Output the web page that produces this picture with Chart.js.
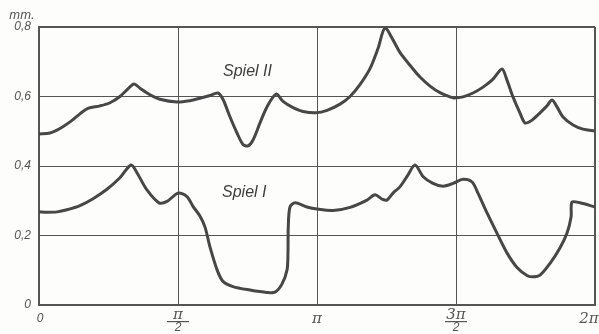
<!DOCTYPE html>
<html>
<head>
<meta charset="utf-8">
<script src="https://cdn.jsdelivr.net/npm/chart.js@4/dist/chart.umd.min.js"></script>
<style>
  body { margin: 0; background: #fdfdfc; }
  canvas { display: block; }
</style>
</head>
<body>
<canvas id="spielChart" width="599" height="334"></canvas>
<script>
// x in degrees (0..360 = 0..2π), y in mm
const spielIIx = [0, 7.1, 13.6, 20.1, 26.5, 31.7, 39.5, 46.0, 52.4, 57.6, 61.5, 65.4, 71.9, 78.3, 89.4, 97.8,
  104.2, 110.7, 115.9, 119.1, 123.7, 128.2, 132.1, 135.3, 138.6, 143.1, 147.6, 153.5, 158.0, 164.5, 170.9,
  179.4, 186.5, 194.9, 201.4, 207.8, 214.3, 219.5, 224.0, 229.2, 233.7, 240.2, 246.7, 253.2, 259.6, 266.1,
  268.7, 274.5, 281.0, 287.5, 294.0, 299.8, 303.0, 306.9, 311.4, 314.7, 319.2, 324.4, 328.9, 332.2, 335.4,
  339.3, 345.8, 352.2, 360];
const spielIIy = [0.492, 0.495, 0.508, 0.527, 0.550, 0.566, 0.573, 0.582, 0.600, 0.622, 0.636, 0.624, 0.605, 0.592, 0.584, 0.588,
  0.595, 0.603, 0.610, 0.592, 0.541, 0.495, 0.462, 0.458, 0.475, 0.524, 0.570, 0.607, 0.586, 0.568, 0.557,
  0.553, 0.560, 0.578, 0.600, 0.634, 0.680, 0.738, 0.797, 0.763, 0.727, 0.690, 0.656, 0.630, 0.611, 0.599,
  0.596, 0.599, 0.610, 0.627, 0.650, 0.679, 0.647, 0.599, 0.553, 0.524, 0.532, 0.553, 0.573, 0.590, 0.570,
  0.541, 0.518, 0.506, 0.501];

const spielIx = [0, 5.2, 11.7, 18.1, 26.5, 35.0, 44.0, 52.4, 59.6, 63.5, 69.9, 77.7, 82.9, 90.0, 95.8, 99.7,
  104.2, 107.5, 110.7, 115.3, 119.1, 125.6, 136.6, 147.6, 152.8, 157.3, 160.6, 161.2, 161.4, 162.5, 165.8,
  173.5, 180.0, 190.4, 201.4, 212.4, 217.6, 222.1, 225.3, 229.2, 233.7, 238.3, 243.5, 248.6, 255.1, 261.6,
  268.1, 274.5, 280.4, 284.2, 290.1, 296.5, 303.0, 309.5, 316.0, 319.9, 324.4, 330.9, 337.3, 341.9, 344.5,
  345.1, 350.3, 360];
const spielIy = [0.268, 0.267, 0.268, 0.274, 0.286, 0.306, 0.333, 0.366, 0.403, 0.380, 0.331, 0.294, 0.298, 0.322, 0.312, 0.284,
  0.256, 0.224, 0.167, 0.101, 0.068, 0.053, 0.043, 0.036, 0.037, 0.060, 0.101, 0.150, 0.224, 0.282, 0.294,
  0.282, 0.276, 0.272, 0.281, 0.302, 0.317, 0.305, 0.302, 0.322, 0.340, 0.370, 0.403, 0.370, 0.350, 0.342,
  0.350, 0.362, 0.354, 0.322, 0.265, 0.207, 0.150, 0.108, 0.085, 0.081, 0.086, 0.120, 0.164, 0.207, 0.253,
  0.296, 0.294, 0.282];

const xTickValues = [0, 90, 180, 270, 360];
const xTickLabels = [['0'], ['π', '2'], ['π'], ['3π', '2'], ['2π']];
const curveNames = ['Spiel II', 'Spiel I'];

const ink = '#474747';
const narrow = "'Liberation Sans Narrow', 'Liberation Sans', sans-serif";
const labelFont = "italic 12px " + narrow;

function toPoints(xs, ys) {
  return xs.map((x, i) => ({ x: x, y: ys[i] }));
}

const textPlugin = {
  id: 'textPlugin',
  afterDraw(chart) {
    const c = chart.ctx;
    const xs = chart.scales.x;
    c.save();
    c.fillStyle = '#555';
    c.textAlign = 'center';
    c.textBaseline = 'middle';
    // unit
    c.font = "italic 13px " + narrow;
    c.fillText('mm.', 22, 15);
    // x labels
    xTickValues.forEach((v, i) => {
      let px = xs.getPixelForValue(v);
      const lab = xTickLabels[i];
      if (v === 0) px += 1;
      if (v === 360) px -= 6;
      if (lab.length === 1) {
        c.font = lab[0] === '0' ? labelFont : "italic 15px 'DejaVu Serif', serif";
        c.fillText(lab[0], px, 319);
      } else {
        c.font = "italic 15px 'DejaVu Serif', serif";
        c.fillText(lab[0], px, 315);
        c.fillRect(px - 11, 321, 22, 1.2);
        c.font = labelFont;
        c.fillText(lab[1], px, 328);
      }
    });
    // curve names
    c.fillStyle = '#3d3d3d';
    c.font = "italic 16px " + narrow;
    c.textAlign = 'left';
    c.fillText(curveNames[0], 223, 72);
    c.fillText(curveNames[1], 222, 193);
    c.restore();
  }
};

new Chart(document.getElementById('spielChart'), {
  type: 'line',
  data: {
    datasets: [
      {
        label: curveNames[0],
        data: toPoints(spielIIx, spielIIy),
        borderColor: ink,
        borderWidth: 3,
        pointRadius: 0,
        tension: 0.3,
        fill: false
      },
      {
        label: curveNames[1],
        data: toPoints(spielIx, spielIy),
        borderColor: ink,
        borderWidth: 3,
        pointRadius: 0,
        tension: 0.3,
        fill: false
      }
    ]
  },
  options: {
    responsive: false,
    animation: false,
    layout: { padding: { top: 27, right: 4, left: 0, bottom: 0 } },
    plugins: {
      legend: { display: false },
      tooltip: { enabled: false }
    },
    scales: {
      x: {
        type: 'linear',
        min: 0,
        max: 360,
        afterFit: (s) => { s.height = 29; },
        ticks: { display: false, stepSize: 90 },
        grid: {
          color: '#555',
          drawTicks: false,
          lineWidth: (ctx) => (ctx.tick && (ctx.tick.value === 0 || ctx.tick.value === 360)) ? 2 : 1
        },
        border: { display: true, color: '#555', width: 2 }
      },
      y: {
        min: 0,
        max: 0.8,
        afterFit: (s) => { s.width = 39; },
        ticks: {
          stepSize: 0.2,
          padding: 8,
          color: '#555',
          font: { family: narrow, size: 12, style: 'italic' },
          callback: (v) => v === 0 ? '0' : v.toFixed(1).replace('.', ',')
        },
        grid: {
          color: '#555',
          drawTicks: false,
          lineWidth: (ctx) => (ctx.tick && Math.abs(ctx.tick.value - 0.8) < 1e-6) ? 2 : 1
        },
        border: { display: true, color: '#555', width: 2 }
      }
    }
  },
  plugins: [textPlugin]
});
</script>
</body>
</html>
